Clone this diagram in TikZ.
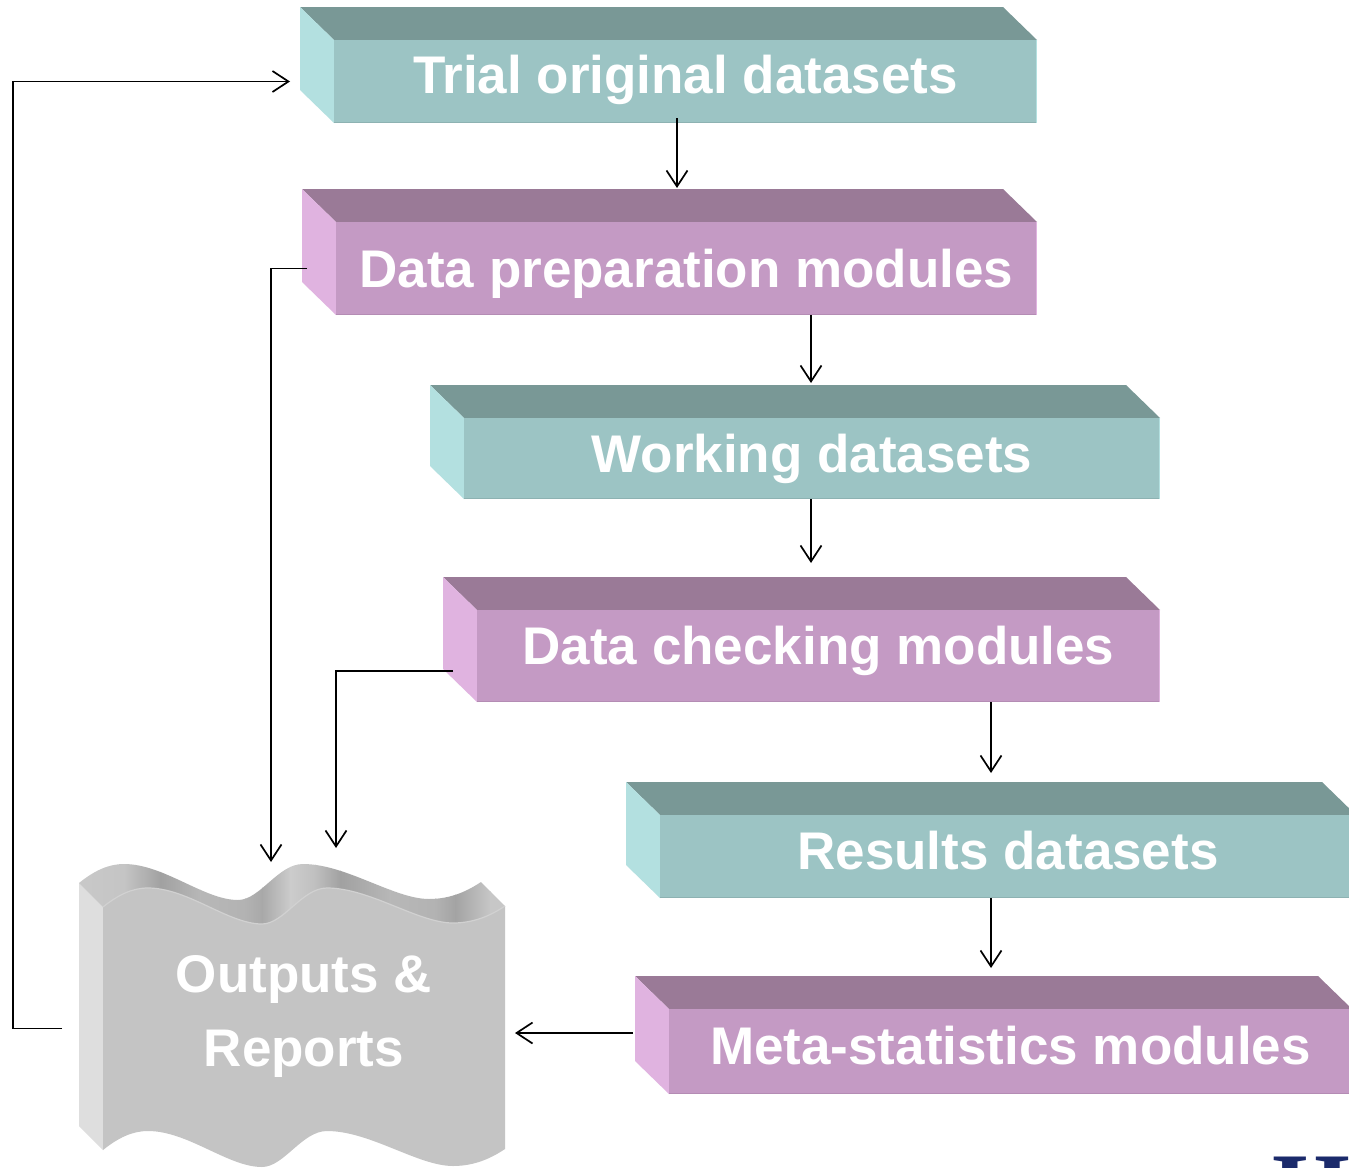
\documentclass[tikz,border=0pt]{standalone}
\usepackage{fontspec}
\setmainfont{Liberation Sans}
\newfontfamily\logofont{Liberation Serif}
\usetikzlibrary{arrows.meta,calc}

% slab palettes: top face, front face, left face
\definecolor{tealtop}{HTML}{799896}
\definecolor{tealfront}{HTML}{9CC4C4}
\definecolor{tealside}{HTML}{B3E0E0}
\definecolor{tealedge}{HTML}{8DB2B2}
\definecolor{pinktop}{HTML}{9A7A97}
\definecolor{pinkfront}{HTML}{C49AC4}
\definecolor{pinkside}{HTML}{E0B3E0}
\definecolor{pinkedge}{HTML}{B48CB4}
\definecolor{navy}{HTML}{1B2A6B}

\tikzset{
  face/.style={inner sep=0pt, outer sep=0pt, draw=none},
  boxtext/.style={anchor=base, inner sep=0pt, text=white,
    font=\fontsize{53}{64}\selectfont\bfseries},
  arr/.style={draw=black, line width=1.7pt,
    -{Straight Barb[length=16pt,width=21pt]}},
}

% extruded slab: #1 name, #2 x1, #3 y1, #4 x2, #5 y2 (front face),
% #6 palette, #7 text baseline, #8 label
\newcommand{\slab}[8]{%
  \fill[#6top] (#2-34,#3-33) -- (#4-34,#3-33) -- (#4,#3) -- (#2,#3) -- cycle;
  \fill[#6side] (#2-34,#3-33) -- (#2,#3) -- (#2,#5) -- (#2-34,#5-33) -- cycle;
  \node[face, fill=#6front, minimum width={(#4-#2)*1pt},
    minimum height={(#5-#3)*1pt}] (#1) at ({(#2+#4)/2},{(#3+#5)/2}) {};
  \draw[#6edge, line width=1.5pt] ([yshift=0.75pt]#1.south west) -- ([yshift=0.75pt]#1.south east);
  \draw[#6side, line width=1.5pt] ([xshift=-0.75pt]#1.north east) -- ([xshift=-0.75pt]#1.south east);
  \node[boxtext] (#1-label) at ({(#2+#4)/2},#7) {#8};
}

\begin{document}
\begin{tikzpicture}[x=1pt,y=-1pt]
\useasboundingbox (0,0) rectangle (1349,1167);
\clip (0,0) rectangle (1349,1167);
\fill[white] (0,0) rectangle (1349,1167);

% ---------- process slabs ----------
\slab{b1}{334}{40}{1037}{123}{teal}{93}{Trial original datasets}
\slab{b2}{336}{222}{1037}{315}{pink}{287}{Data preparation modules}
\slab{b3}{464}{418}{1160}{499}{teal}{472}{Working datasets}
\slab{b4}{477}{610}{1160}{702}{pink}{664}{Data checking modules}
\slab{b5}{660}{815}{1356}{898}{teal}{869}{Results datasets}
\slab{b6}{669}{1009}{1352}{1094}{pink}{1064}{Meta-statistics modules}

% ---------- wavy "Outputs & Reports" document ----------
% left face
\fill[white!87!black] (79,883) -- (103,907) -- (103,1150) -- (79,1126) -- cycle;
% front face
\fill[white!77!black] (103,907) .. controls (118,895) and (132,888) .. (148,888)
  .. controls (188,888) and (228,924) .. (262,924)
  .. controls (284,924) and (302,888) .. (327,888)
  .. controls (370,888) and (418,923) .. (453,923)
  .. controls (476,923) and (493,914) .. (505,906)
  -- (505,1149)
  .. controls (493,1157) and (476,1166) .. (453,1166)
  .. controls (418,1166) and (370,1131) .. (327,1131)
  .. controls (302,1131) and (284,1167) .. (262,1167)
  .. controls (228,1167) and (188,1131) .. (148,1131)
  .. controls (132,1131) and (118,1138) .. (103,1150) -- cycle;
% curved top face, shaded in bands
\begin{scope}
  \clip (103,907) .. controls (118,895) and (132,888) .. (148,888)
    .. controls (188,888) and (228,924) .. (262,924)
    .. controls (284,924) and (302,888) .. (327,888)
    .. controls (370,888) and (418,923) .. (453,923)
    .. controls (476,923) and (493,914) .. (505,906)
    -- (481,882)
    .. controls (469,890) and (452,899) .. (429,899)
    .. controls (394,899) and (346,864) .. (303,864)
    .. controls (278,864) and (260,900) .. (238,900)
    .. controls (204,900) and (164,864) .. (124,864)
    .. controls (108,864) and (94,871) .. (79,883) -- cycle;
  \shade[left color=white!79!black, right color=white!77!black] (70,850) rectangle (126,930);
  \shade[left color=white!77!black, right color=white!63!black] (125,850) rectangle (161,930);
  \shade[left color=white!63!black, right color=white!72!black] (160,850) rectangle (201,930);
  \shade[left color=white!72!black, right color=white!70!black] (200,850) rectangle (246,930);
  \shade[left color=white!70!black, right color=white!66!black] (245,850) rectangle (263,930);
  \shade[left color=white!66!black, right color=white!80!black] (262,850) rectangle (291,930);
  \shade[left color=white!80!black, right color=white!75!black] (290,850) rectangle (316,930);
  \shade[left color=white!75!black, right color=white!63!black] (315,850) rectangle (341,930);
  \shade[left color=white!63!black, right color=white!72!black] (340,850) rectangle (391,930);
  \shade[left color=white!72!black, right color=white!70!black] (390,850) rectangle (436,930);
  \shade[left color=white!70!black, right color=white!64!black] (435,850) rectangle (456,930);
  \shade[left color=white!64!black, right color=white!78!black] (455,850) rectangle (491,930);
  \fill[white!78!black] (490,850) rectangle (512,930);
\end{scope}
\draw[white!82!black, line width=1.2pt] (103,907) .. controls (118,895) and (132,888) .. (148,888)
  .. controls (188,888) and (228,924) .. (262,924)
  .. controls (284,924) and (302,888) .. (327,888)
  .. controls (370,888) and (418,923) .. (453,923)
  .. controls (476,923) and (493,914) .. (505,906);
\node[face, minimum width=402pt, minimum height=243pt] (out) at (304,1028.5) {};
\node[inner sep=0pt, text=white, align=center,
  font=\fontsize{53}{74}\selectfont\bfseries] (out-label) at (304,1016) {Outputs \&\\Reports};

% ---------- connectors ----------
\coordinate (t12) at (677,188);
\coordinate (t23) at (811,383);
\coordinate (t34) at (811,563);
\coordinate (t45) at (991,773);
\coordinate (t56) at (991,968);
\coordinate (t6o) at (515,1033);
\coordinate (t2o) at (271,862);
\coordinate (t4o) at (336,848);

\draw[arr] ([yshift=5pt]b1.south -| t12) -- (t12);
\draw[arr] (b2.south -| t23) -- (t23);
\draw[arr] (b3.south -| t34) -- (t34);
\draw[arr] (b4.south -| t45) -- (t45);
\draw[arr] (b5.south -| t56) -- (t56);
\draw[arr] ($(b6.west)+(-36,-18.5)$) -- (t6o);
\draw[arr] ([xshift=-41pt]out.west) -- ++(-49,0) |- ([xshift=-44pt]b1.west);
\draw[arr] ([xshift=-29pt]b2.west) -| (t2o);
\draw[arr] ($(b4.west)+(-24,15)$) -| (t4o);

% ---------- corner logo ----------
\node[anchor=base west, inner sep=0pt, text=navy,
  font=\logofont\bfseries\fontsize{100}{100}\selectfont] (logo) at (1272,1222) {H};
\end{tikzpicture}
\end{document}
